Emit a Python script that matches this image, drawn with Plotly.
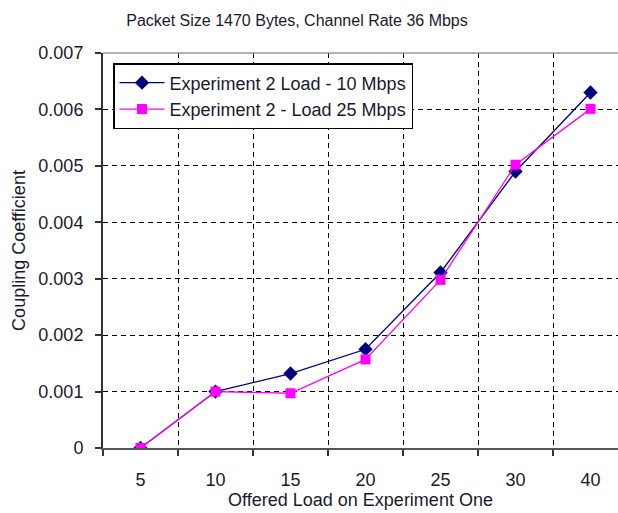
import plotly.graph_objects as go

# Offered load on experiment one (Mbps)
loads = ["5", "10", "15", "20", "25", "30", "40"]
positions = list(range(len(loads)))

# Coupling coefficient for each experiment-2 load
coupling_10mbps = [0.0, 0.0010, 0.00132, 0.00175, 0.00311, 0.00490, 0.00630]
coupling_25mbps = [0.0, 0.0010, 0.00097, 0.00157, 0.00298, 0.00502, 0.00601]

y_ticks = [0, 0.001, 0.002, 0.003, 0.004, 0.005, 0.006, 0.007]
y_ticktext = ["0", "0.001", "0.002", "0.003", "0.004", "0.005", "0.006", "0.007"]

FONT = "Liberation Sans, Arial, sans-serif"
TXT = "#1a1a2e"

fig = go.Figure()
fig.add_trace(go.Scatter(
    x=positions, y=coupling_10mbps, mode="lines+markers",
    name="Experiment 2 Load - 10 Mbps",
    line=dict(color="#000080", width=1.3),
    marker=dict(symbol="diamond", size=11, color="#000080"),
))
fig.add_trace(go.Scatter(
    x=positions, y=coupling_25mbps, mode="lines+markers",
    name="Experiment 2 - Load 25 Mbps",
    line=dict(color="#FF00FF", width=1.3),
    marker=dict(symbol="square", size=10, color="#FF00FF"),
))

fig.update_layout(
    width=618, height=513,
    margin=dict(l=103, r=0, t=53, b=65),
    paper_bgcolor="white", plot_bgcolor="white",
    font=dict(family=FONT, size=18, color=TXT),
    title=dict(text="Packet Size 1470 Bytes, Channel Rate 36 Mbps",
               x=297 / 618, xanchor="center", y=1 - 20 / 513, yanchor="middle",
               font=dict(size=16, color=TXT)),
    showlegend=True,
    legend=dict(x=10 / 515, xanchor="left", y=1 - 10 / 395, yanchor="top",
                bgcolor="white", bordercolor="black", borderwidth=1.5,
                font=dict(size=18, color=TXT), itemwidth=45,
                tracegroupgap=0),
    xaxis=dict(
        range=[-0.5, 6.5 - 10 / 75],
        tickmode="array", tickvals=positions, ticktext=loads,
        ticks="", showgrid=False, zeroline=False,
        showline=True, linecolor="#555555", linewidth=2,
        ticklabelstandoff=14,
        minor=dict(tick0=0.5, dtick=1, ticks="outside", ticklen=6,
                   tickwidth=2, tickcolor="#333333",
                   showgrid=True, gridcolor="#000000", gridwidth=1.3,
                   griddash="5px,4px"),
        title=dict(text="Offered Load on Experiment One", standoff=4,
                   font=dict(size=18, color=TXT)),
    ),
    yaxis=dict(
        range=[0, 0.007],
        tickmode="array", tickvals=y_ticks, ticktext=y_ticktext,
        ticks="outside", ticklen=6, tickwidth=2, tickcolor="#333333",
        showgrid=True, gridcolor="#000000", gridwidth=1.3,
        griddash="5px,4px", zeroline=False,
        showline=True, linecolor="#333333", linewidth=2,
        ticklabelstandoff=8,
        title=dict(text="Coupling Coefficient", standoff=8,
                   font=dict(size=18, color=TXT)),
    ),
    shapes=[dict(type="line", xref="paper", yref="paper",
                 x0=0, x1=1, y0=1, y1=1,
                 line=dict(color="#999999", width=1.5), layer="above")],
)

fig.write_html("out.html")
